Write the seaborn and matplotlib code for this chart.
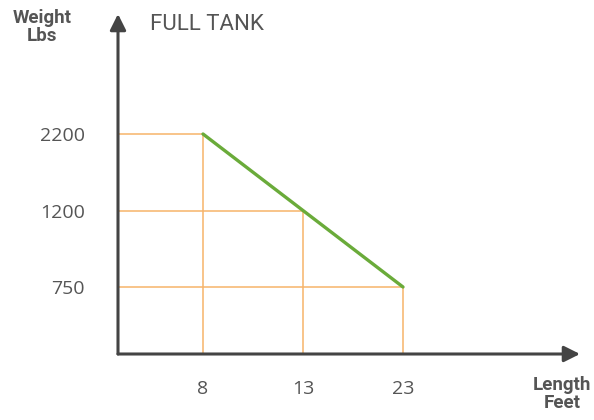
import pandas as pd
import matplotlib.pyplot as plt
import seaborn as sns

# chart data (x and y are ordinal: evenly spaced in the picture)
lengths = [8, 13, 23]
weights = [2200, 1200, 750]
x_labels = ["8", "13", "23"]
y_labels = ["2200", "1200", "750"]

axis_color = "#444444"
text_color = "#555555"
guide_color = "#F7B469"
line_color = "#6AAB3A"

sns.set_theme(style="white")
plt.rcParams['font.family'] = ['Open Sans', 'DejaVu Sans']

df = pd.DataFrame({
    "pos_x": range(len(lengths)),
    "pos_y": [sorted(weights).index(w) for w in weights],
    "length": lengths,
    "weight": weights,
})

W, H = 594, 420
fig = plt.figure(figsize=(W / 100, H / 100), dpi=100)

# axes box: origin at (118, 354) px, arrow tips at x=580 / y=14
ax = fig.add_axes([118 / W, (H - 354) / H, (580 - 118) / W, (354 - 14) / H])
x0, x1 = -0.85, 3.77
y0, y1 = (287 - 354) / 76.5, (287 - 14) / 76.5
ax.set_xlim(x0, x1)
ax.set_ylim(y0, y1)

# orange guide lines from each point to both axes
ax.hlines(df["pos_y"], x0, df["pos_x"], color=guide_color, lw=1.1, zorder=1)
ax.vlines(df["pos_x"], y0, df["pos_y"], color=guide_color, lw=1.1, zorder=1)

sns.lineplot(data=df, x="pos_x", y="pos_y", color=line_color, lw=2.4, ax=ax, zorder=3)

# axes with arrow heads
for sp in ax.spines.values():
    sp.set_visible(False)
arrow = dict(arrowstyle="-|>", color=axis_color, lw=2.2, mutation_scale=24,
             shrinkA=0, shrinkB=0)
ax.annotate("", xy=(1, 0), xytext=(0, 0), xycoords="axes fraction",
            arrowprops=arrow, annotation_clip=False)
ax.annotate("", xy=(0, 1), xytext=(0, 0), xycoords="axes fraction",
            arrowprops=arrow, annotation_clip=False)

ax.set_xticks(df["pos_x"])
ax.set_xticklabels(x_labels)
ax.set_yticks(df["pos_y"])
ax.set_yticklabels(y_labels)
ax.tick_params(axis="both", length=0, labelsize=14, labelcolor=text_color)
ax.tick_params(axis="x", pad=19)
ax.tick_params(axis="y", pad=24)
ax.set_xlabel("")
ax.set_ylabel("")
ax.grid(False)

fig.text(150 / W, 1 - 24 / H, "FULL TANK", fontsize=16, color=text_color,
         family="Roboto", va="center", ha="left")
fig.text(42 / W, 1 - 27 / H, "Weight\nLbs", fontsize=13.5, color=text_color,
         family="Roboto", weight="bold", va="center", ha="center", linespacing=1.05)
fig.text(562 / W, 1 - 394 / H, "Length\nFeet", fontsize=13.5, color=text_color,
         family="Roboto", weight="bold", va="center", ha="center", linespacing=1.05)

fig.savefig("out.png", dpi=100)
